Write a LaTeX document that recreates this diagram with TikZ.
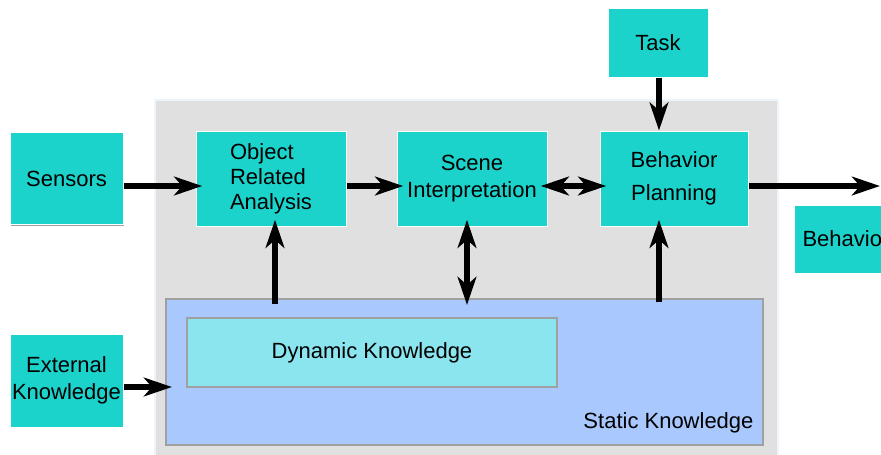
\documentclass[tikz,border=0pt]{standalone}
\usepackage{fontspec}
\setmainfont{Liberation Sans}
\usetikzlibrary{arrows.meta,calc,shadows}
\definecolor{boxcyan}{HTML}{1CD3CC}
\definecolor{bggray}{HTML}{E0E0E0}
\definecolor{bgedge}{HTML}{EEF4FB}
\definecolor{statblue}{HTML}{A8C8FE}
\definecolor{dynblue}{HTML}{8AE5EF}
\definecolor{edgegray}{HTML}{A0A0A0}
\begin{document}
\begin{tikzpicture}[x=0.75pt,y=-0.75pt,
  font=\fontsize{16.5}{18.75}\selectfont,
  box/.style={fill=boxcyan, draw=white, line width=0.75pt, inner sep=0pt, align=center,
    drop shadow={shadow xshift=0.9pt, shadow yshift=-0.9pt, fill=edgegray, opacity=1}},
  arr/.style={line width=3.9pt, -{Stealth[length=21pt,width=14pt,inset=6pt]}, shorten >=-5pt},
  darr/.style={arr, {Stealth[length=21pt,width=14pt,inset=6pt]}-{Stealth[length=21pt,width=14pt,inset=6pt]}, shorten <=-5pt}]
  \useasboundingbox (0,0) rectangle (881,454);
  % system panel
  \draw[fill=bggray, draw=bgedge, line width=2pt] (155,100) rectangle (778,470);

  \node[box, minimum width=84.75pt, minimum height=69pt] (sensors) at (66.5,178.5) {Sensors};
  \node[box, minimum width=84.75pt, minimum height=69.75pt] (ext) at (66.5,380.5) {External\\[1.5pt]Knowledge};
  \node[box, minimum width=112.5pt, minimum height=71.25pt, align=left] (ora) at (271,178.5) {Object\\Related\\Analysis};
  \node[box, minimum width=112.5pt, minimum height=71.25pt] (scene) at (472,178.5) {Scene\\[2pt]Interpretation};
  \node[box, minimum width=111pt, minimum height=71.25pt] (bp) at (674,178.5) {Behavior\\[6pt]Planning};
  \node[box, minimum width=75pt, minimum height=51.75pt] (task) at (658,42.5) {Task};
  \node[box, minimum width=75pt, minimum height=51pt, anchor=west, inner xsep=6pt, align=left] (behav) at (794,239) {Behavior};

  % knowledge base
  \node[fill=statblue, draw=edgegray, line width=1.1pt, minimum width=447.75pt, minimum height=109.5pt] (static) at (464.5,372) {};
  \node[fill=dynblue, draw=edgegray, line width=0.9pt, minimum width=277.5pt, minimum height=51.75pt] (dyn) at (372,352.5) {Dynamic Knowledge};
  \node[anchor=base east, inner sep=0pt] (statlbl) at ($(static.south east)+(-10,-17)$) {Static Knowledge};

  \coordinate (out) at (880,186);

  \draw[arr] ($(sensors.east)+(0,7.5)$) -- ($(ora.west)+(0,7.5)$);
  \draw[arr] ($(ora.east)+(0,7.5)$) -- ($(scene.west)+(0,7.5)$);
  \draw[darr] ($(scene.east)+(0,7.5)$) -- ($(bp.west)+(0,7.5)$);
  \draw[arr, shorten >=0pt] ($(bp.east)+(0,7.5)$) -- (out);
  \draw[arr, shorten >=0pt] ($(task.south)+(1,0)$) -- ($(task.south |- bp.north)+(1,0)$);
  \draw[arr] ($(static.north -| ora.south)+(4,6)$) -- ($(ora.south)+(4,0)$);
  \draw[darr] ($(scene.south)+(-5,0)$) -- ($(static.north -| scene.south)+(-5,0)$);
  \draw[arr] ($(static.north -| bp.south)+(-15,4)$) -- ($(bp.south)+(-15,0)$);
  \draw[arr] ($(ext.east)+(0,6.5)$) -- ($(static.west |- ext.east)+(0,6.5)$);
\end{tikzpicture}
\end{document}
